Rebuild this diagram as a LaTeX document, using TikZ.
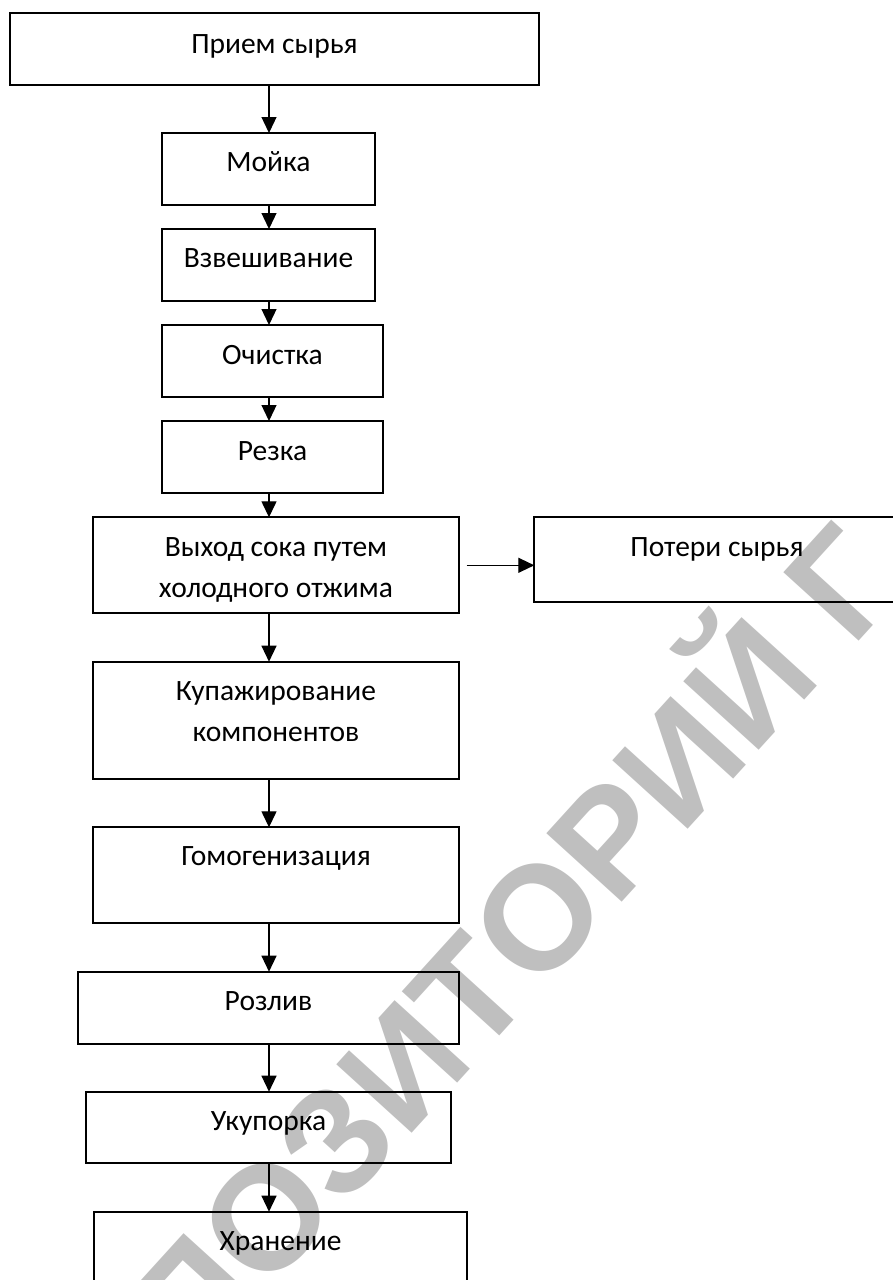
\documentclass[tikz,border=0pt]{standalone}
\usepackage{fontspec}
\setmainfont{Carlito}
\newfontfamily\wmfont{Liberation Sans}
\usetikzlibrary{arrows.meta,decorations.text}
\definecolor{wmgray}{RGB}{191,191,191}
\begin{document}
\begin{tikzpicture}[x=1pt,y=-1pt,
  box/.style={draw=black, line width=1.9pt, inner sep=0pt, outer sep=0pt},
  lbl/.style={font=\fontsize{29.5}{41}\selectfont, inner sep=0pt, anchor=base},
  lbltwo/.style={font=\fontsize{29.5}{41}\selectfont, inner sep=0pt, anchor=north, align=center},
  arr/.style={line width=1.3pt, -{Triangle[width=15pt,length=16pt]}}]
\useasboundingbox (0,0) rectangle (893,1280);
% watermark
\path[decorate, decoration={text along path, text color=wmgray,
  text={|\wmfont\bfseries\fontsize{148}{148}\selectfont|ПОЗИТОРИЙ Г}}]
  (194,1373) -- (1000,486);
% boxes
\node[box, minimum width=529pt, minimum height=72pt] (b1) at (274.5,49) {};
\node[box, minimum width=213pt, minimum height=72pt] (b2) at (268.5,169) {};
\node[box, minimum width=213pt, minimum height=72pt] (b3) at (268.5,265) {};
\node[box, minimum width=221pt, minimum height=72pt] (b4) at (272.5,361) {};
\node[box, minimum width=221pt, minimum height=72pt] (b5) at (272.5,457) {};
\node[box, minimum width=365.4pt, minimum height=96pt] (b6) at (276,565.3) {};
\node[box, minimum width=365.4pt, minimum height=84.7pt] (b7) at (717,559.35) {};
\node[box, minimum width=365.4pt, minimum height=117.3pt] (b8) at (276,720.35) {};
\node[box, minimum width=365.4pt, minimum height=96pt] (b9) at (276,875.3) {};
\node[box, minimum width=380.4pt, minimum height=72.3pt] (b10) at (268.5,1007.85) {};
\node[box, minimum width=365pt, minimum height=71.6pt] (b11) at (268.5,1127.5) {};
\node[box, minimum width=372.4pt, minimum height=100pt] (b12) at (280.5,1261.7) {};
% labels
\node[lbl] (t1) at (274.5,53) {Прием сырья};
\node[lbl] (t2) at (268.5,171.7) {Мойка};
\node[lbl] (t3) at (268.5,267.7) {Взвешивание};
\node[lbl] (t4) at (272.5,364) {Очистка};
\node[lbl] (t5) at (272.5,460) {Резка};
\node[lbltwo] (t6) at (276,534) {\rule{0pt}{22pt}Выход сока путем\\холодного отжима};
\node[lbl] (t7) at (717,556.5) {Потери сырья};
\node[lbltwo] (t8) at (276,678) {\rule{0pt}{22pt}Купажирование\\компонентов};
\node[lbl] (t9) at (276,865.7) {Гомогенизация};
\node[lbl] (t10) at (268.5,1010) {Розлив};
\node[lbl] (t11) at (268.5,1130) {Укупорка};
\node[lbl] (t12) at (280.5,1250) {Хранение};
% connectors
\coordinate (ax) at (269,0);
\draw[arr] (b1.south -| ax) -- (b2.north -| ax);
\draw[arr] (b2.south -| ax) -- (b3.north -| ax);
\draw[arr] (b3.south -| ax) -- (b4.north -| ax);
\draw[arr] (b4.south -| ax) -- (b5.north -| ax);
\draw[arr] (b5.south -| ax) -- (b6.north -| ax);
\draw[arr] (b6.south -| ax) -- (b8.north -| ax);
\draw[arr] (b8.south -| ax) -- (b9.north -| ax);
\draw[arr] (b9.south -| ax) -- (b10.north -| ax);
\draw[arr] (b10.south -| ax) -- (b11.north -| ax);
\draw[arr] (b11.south -| ax) -- (b12.north -| ax);
\draw[arr] ([xshift=8pt]b6.east) -- (b6.east -| b7.west);
\end{tikzpicture}
\end{document}
